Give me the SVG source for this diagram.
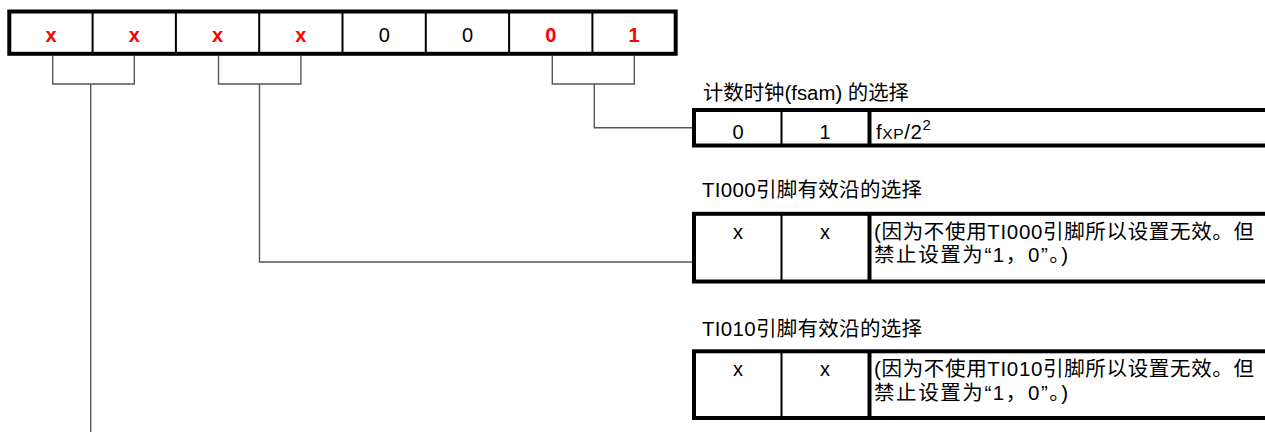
<svg xmlns="http://www.w3.org/2000/svg" width="1265" height="432" viewBox="0 0 1265 432">
  <style>
    .frame { fill: #fff; stroke: #000; stroke-width: 4; }
    .div { stroke: #000; stroke-width: 2; }
    .divw { stroke: #000; stroke-width: 4; }
    .bit { font-family: "Liberation Sans", Arial, sans-serif; font-size: 20px; text-anchor: middle; }
    .red { fill: #ff0000; font-weight: bold; }
    .blk { fill: #000; }
    .txt { font-family: "Liberation Sans", Arial, "Noto Sans CJK SC", sans-serif; font-size: 20.5px; fill: #000; }
    .wire { fill: none; stroke: #555; stroke-width: 1.4; }
  </style>

  <!-- 8-bit register -->
  <g id="register">
    <rect class="frame" x="9.3" y="11.5" width="666.4" height="42.3"/>
    <line class="div" x1="92.6" y1="11.5" x2="92.6" y2="53.8"/>
    <line class="div" x1="175.9" y1="11.5" x2="175.9" y2="53.8"/>
    <line class="div" x1="259.2" y1="11.5" x2="259.2" y2="53.8"/>
    <line class="div" x1="342.5" y1="11.5" x2="342.5" y2="53.8"/>
    <line class="div" x1="425.8" y1="11.5" x2="425.8" y2="53.8"/>
    <line class="div" x1="509.1" y1="11.5" x2="509.1" y2="53.8"/>
    <line class="div" x1="592.4" y1="11.5" x2="592.4" y2="53.8"/>
    <text class="bit red" x="51" y="42">x</text>
    <text class="bit red" x="134.3" y="42">x</text>
    <text class="bit red" x="217.6" y="42">x</text>
    <text class="bit red" x="300.9" y="42">x</text>
    <text class="bit blk" x="384.2" y="42">0</text>
    <text class="bit blk" x="467.5" y="42">0</text>
    <text class="bit red" x="550.8" y="42">0</text>
    <text class="bit red" x="634.1" y="42">1</text>
  </g>

  <!-- connectors from bit pairs to the option tables -->
  <g id="connectors">
    <path class="wire" d="M52.7 56 V84 H134.3 V56"/>
    <path class="wire" d="M218.5 56 V84 H300.9 V56"/>
    <path class="wire" d="M552.3 56 V84 H634.3 V56"/>
    <path class="wire" d="M90.7 84 V432"/>
    <path class="wire" d="M259.5 84 V262 H692"/>
    <path class="wire" d="M594.3 84 V127.7 H692"/>
  </g>

  <!-- count clock selection -->
  <g id="clock-select">
    <text class="txt" x="703" y="100" textLength="206" lengthAdjust="spacingAndGlyphs">计数时钟(fsam) 的选择</text>
    <rect class="frame" x="694" y="110" width="580" height="35.5"/>
    <line class="div" x1="781.5" y1="110" x2="781.5" y2="145.5"/>
    <line class="divw" x1="869.5" y1="110" x2="869.5" y2="145.5"/>
    <text class="bit blk" x="738" y="138.5">0</text>
    <text class="bit blk" x="825" y="138.5">1</text>
    <text class="txt" x="876" y="138.5" font-size="21" letter-spacing="0.6">f<tspan font-size="15.5">XP</tspan>/2<tspan font-size="15" dy="-9">2</tspan></text>
  </g>

  <!-- TI000 valid edge selection -->
  <g id="ti000-select">
    <text class="txt" x="702" y="197" textLength="220">TI000引脚有效沿的选择</text>
    <rect class="frame" x="694" y="213.8" width="580" height="67.7"/>
    <line class="div" x1="781.5" y1="213.8" x2="781.5" y2="281.5"/>
    <line class="divw" x1="869.5" y1="213.8" x2="869.5" y2="281.5"/>
    <text class="bit blk" x="738" y="238.5">x</text>
    <text class="bit blk" x="825" y="238.5">x</text>
    <text class="txt" x="874" y="238.5" textLength="380">(因为不使用TI000引脚所以设置无效。但</text>
    <text class="txt" x="874" y="262" textLength="194">禁止设置为“1，0”。)</text>
  </g>

  <!-- TI010 valid edge selection -->
  <g id="ti010-select">
    <text class="txt" x="702" y="336" textLength="220">TI010引脚有效沿的选择</text>
    <rect class="frame" x="694" y="351.3" width="580" height="66.7"/>
    <line class="div" x1="781.5" y1="351.3" x2="781.5" y2="418"/>
    <line class="divw" x1="869.5" y1="351.3" x2="869.5" y2="418"/>
    <text class="bit blk" x="738" y="376">x</text>
    <text class="bit blk" x="825" y="376">x</text>
    <text class="txt" x="874" y="376" textLength="380">(因为不使用TI010引脚所以设置无效。但</text>
    <text class="txt" x="874" y="400" textLength="194">禁止设置为“1，0”。)</text>
  </g>
</svg>
